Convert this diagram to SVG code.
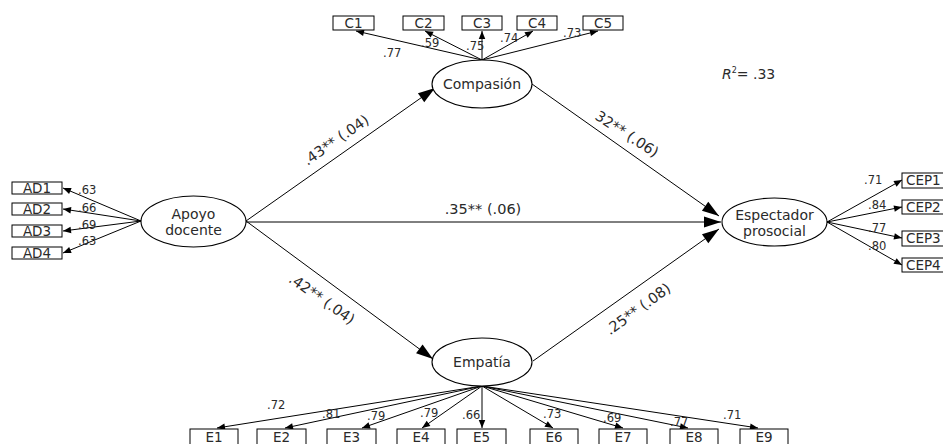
<svg xmlns="http://www.w3.org/2000/svg" width="943" height="444" viewBox="0 0 943 444">
  <style>
    text { font-family: "DejaVu Sans", "Noto Sans", sans-serif; fill: #2a2a2a; }
    .box { fill: #fff; stroke: #000; stroke-width: 1; }
    .lat { fill: #fff; stroke: #000; stroke-width: 1.1; }
    .bl { font-size: 13.5px; text-anchor: middle; }
    .bs { font-size: 13.5px; }
    .ll { font-size: 14px; text-anchor: middle; }
    .pl { font-size: 14.5px; text-anchor: middle; }
    .cf { font-size: 11.5px; }
    .ind { stroke: #000; stroke-width: 1; fill: none; marker-end: url(#sm); }
    .str { stroke: #000; stroke-width: 1; fill: none; marker-end: url(#lg); }
  </style>
  <defs>
    <marker id="sm" markerUnits="userSpaceOnUse" markerWidth="9" markerHeight="7" refX="8" refY="3.25" orient="auto" overflow="visible">
      <path d="M0,0 L8,3.25 L0,6.5 z" fill="#000"/>
    </marker>
    <marker id="lg" markerUnits="userSpaceOnUse" markerWidth="18" markerHeight="12" refX="17" refY="5.5" orient="auto" overflow="visible">
      <path d="M0,0 L17,5.5 L0,11 z" fill="#000"/>
    </marker>
  </defs>

  <!-- structural paths and indicator loadings -->
  <g id="connectors">
    <!-- Apoyo docente indicators -->
    <line class="ind" x1="141" y1="221" x2="63" y2="188"/>
    <line class="ind" x1="141" y1="221" x2="63" y2="209"/>
    <line class="ind" x1="141" y1="221" x2="63" y2="231"/>
    <line class="ind" x1="141" y1="221" x2="63" y2="253"/>
    <!-- Compasión indicators -->
    <line class="ind" x1="482" y1="60" x2="356" y2="31"/>
    <line class="ind" x1="482" y1="60" x2="425" y2="31"/>
    <line class="ind" x1="482" y1="60" x2="482" y2="31"/>
    <line class="ind" x1="482" y1="60" x2="533" y2="31"/>
    <line class="ind" x1="482" y1="60" x2="598" y2="31"/>
    <!-- Empatía indicators -->
    <line class="ind" x1="482" y1="386" x2="217" y2="428"/>
    <line class="ind" x1="482" y1="386" x2="285" y2="428"/>
    <line class="ind" x1="482" y1="386" x2="362" y2="428"/>
    <line class="ind" x1="482" y1="386" x2="422" y2="428"/>
    <line class="ind" x1="482" y1="386" x2="482" y2="428"/>
    <line class="ind" x1="482" y1="386" x2="553" y2="428"/>
    <line class="ind" x1="482" y1="386" x2="623" y2="428"/>
    <line class="ind" x1="482" y1="386" x2="688" y2="428"/>
    <line class="ind" x1="482" y1="386" x2="758" y2="428"/>
    <!-- Espectador prosocial indicators -->
    <line class="ind" x1="827" y1="222" x2="902" y2="180"/>
    <line class="ind" x1="827" y1="222" x2="902" y2="207"/>
    <line class="ind" x1="827" y1="222" x2="902" y2="238"/>
    <line class="ind" x1="827" y1="222" x2="902" y2="265"/>
    <!-- structural paths -->
    <line class="str" x1="246" y1="221" x2="435" y2="88"/>
    <line class="str" x1="246" y1="221" x2="433" y2="359"/>
    <line class="str" x1="246" y1="222" x2="721" y2="222"/>
    <line class="str" x1="532" y1="84" x2="719" y2="216"/>
    <line class="str" x1="533" y1="361" x2="719" y2="229"/>
  </g>

  <!-- path coefficients -->
  <g id="path-labels">
    <text class="pl" transform="translate(336,140) rotate(-35)" y="5">.43** (.04)</text>
    <text class="pl" transform="translate(322,299) rotate(35)" y="5">.42** (.04)</text>
    <text class="pl" transform="translate(627,134) rotate(33)" y="5">32** (.06)</text>
    <text class="pl" transform="translate(638,309) rotate(-36)" y="5">.25** (.08)</text>
    <text class="pl" x="483" y="214">.35** (.06)</text>
    <text x="722" y="79" style="font-size:14px"><tspan font-style="italic">R</tspan><tspan font-size="8" dy="-6">2</tspan><tspan dy="6">= .33</tspan></text>
  </g>

  <!-- loading values -->
  <g id="loadings">
    <text class="cf" x="78" y="194">.63</text>
    <text class="cf" x="78" y="212">.66</text>
    <text class="cf" x="78" y="229">.69</text>
    <text class="cf" x="78" y="245">.63</text>
    <text class="cf" x="383" y="57">.77</text>
    <text class="cf" x="421" y="47">.59</text>
    <text class="cf" x="466" y="50">.75</text>
    <text class="cf" x="500" y="42">.74</text>
    <text class="cf" x="563" y="37">.73</text>
    <text class="cf" x="267" y="409">.72</text>
    <text class="cf" x="322" y="418">.81</text>
    <text class="cf" x="367" y="420">.79</text>
    <text class="cf" x="420" y="417">.79</text>
    <text class="cf" x="462" y="419">.66</text>
    <text class="cf" x="543" y="418">.73</text>
    <text class="cf" x="603" y="422">.69</text>
    <text class="cf" x="670" y="426">.77</text>
    <text class="cf" x="723" y="419">.71</text>
    <text class="cf" x="864" y="184">.71</text>
    <text class="cf" x="868" y="209">.84</text>
    <text class="cf" x="868" y="232">.77</text>
    <text class="cf" x="868" y="250">.80</text>
  </g>

  <!-- latent variables -->
  <g id="apoyo-docente">
    <ellipse class="lat" cx="193.5" cy="221.5" rx="52.5" ry="25.5"/>
    <text class="ll" x="193.5" y="219">Apoyo</text>
    <text class="ll" x="193.5" y="235">docente</text>
  </g>
  <g id="compasion">
    <ellipse class="lat" cx="482" cy="84" rx="50" ry="24"/>
    <text class="ll" x="482" y="89">Compasión</text>
  </g>
  <g id="empatia">
    <ellipse class="lat" cx="482" cy="362" rx="50" ry="24"/>
    <text class="ll" x="482" y="367">Empatía</text>
  </g>
  <g id="espectador-prosocial">
    <ellipse class="lat" cx="774.5" cy="222" rx="52.5" ry="24"/>
    <text class="ll" x="774.5" y="220">Espectador</text>
    <text class="ll" x="774.5" y="236">prosocial</text>
  </g>

  <!-- observed indicators -->
  <g id="AD1"><rect class="box" x="12" y="182" width="50" height="12"/><text class="bl" x="37" y="193">AD1</text></g>
  <g id="AD2"><rect class="box" x="12" y="203" width="50" height="12"/><text class="bl" x="37" y="214">AD2</text></g>
  <g id="AD3"><rect class="box" x="12" y="225" width="50" height="12"/><text class="bl" x="37" y="236">AD3</text></g>
  <g id="AD4"><rect class="box" x="12" y="247" width="50" height="12"/><text class="bl" x="37" y="258">AD4</text></g>

  <g id="C1"><rect class="box" x="333" y="16" width="41" height="14"/><text class="bl" x="353.5" y="28">C1</text></g>
  <g id="C2"><rect class="box" x="403" y="16" width="41" height="14"/><text class="bl" x="423.5" y="28">C2</text></g>
  <g id="C3"><rect class="box" x="462" y="16" width="40" height="14"/><text class="bl" x="482" y="28">C3</text></g>
  <g id="C4"><rect class="box" x="517" y="16" width="40" height="14"/><text class="bl" x="537" y="28">C4</text></g>
  <g id="C5"><rect class="box" x="583" y="16" width="40" height="14"/><text class="bl" x="603" y="28">C5</text></g>

  <g id="E1"><rect class="box" x="190" y="429" width="48" height="17"/><text class="bl" x="214" y="442">E1</text></g>
  <g id="E2"><rect class="box" x="257" y="429" width="49" height="17"/><text class="bl" x="281.5" y="442">E2</text></g>
  <g id="E3"><rect class="box" x="327" y="429" width="49" height="17"/><text class="bl" x="351.5" y="442">E3</text></g>
  <g id="E4"><rect class="box" x="397" y="429" width="48" height="17"/><text class="bl" x="421" y="442">E4</text></g>
  <g id="E5"><rect class="box" x="457" y="429" width="49" height="17"/><text class="bl" x="481.5" y="442">E5</text></g>
  <g id="E6"><rect class="box" x="530" y="429" width="48" height="17"/><text class="bl" x="554" y="442">E6</text></g>
  <g id="E7"><rect class="box" x="599" y="429" width="48" height="17"/><text class="bl" x="623" y="442">E7</text></g>
  <g id="E8"><rect class="box" x="670" y="429" width="48" height="17"/><text class="bl" x="694" y="442">E8</text></g>
  <g id="E9"><rect class="box" x="740" y="429" width="48" height="17"/><text class="bl" x="764" y="442">E9</text></g>

  <g id="CEP1"><rect class="box" x="902" y="173" width="46" height="15"/><text class="bs" x="906" y="185">CEP1</text></g>
  <g id="CEP2"><rect class="box" x="902" y="200" width="46" height="14"/><text class="bs" x="906" y="212">CEP2</text></g>
  <g id="CEP3"><rect class="box" x="902" y="231" width="46" height="15"/><text class="bs" x="906" y="243">CEP3</text></g>
  <g id="CEP4"><rect class="box" x="902" y="258" width="46" height="14"/><text class="bs" x="906" y="270">CEP4</text></g>
</svg>
